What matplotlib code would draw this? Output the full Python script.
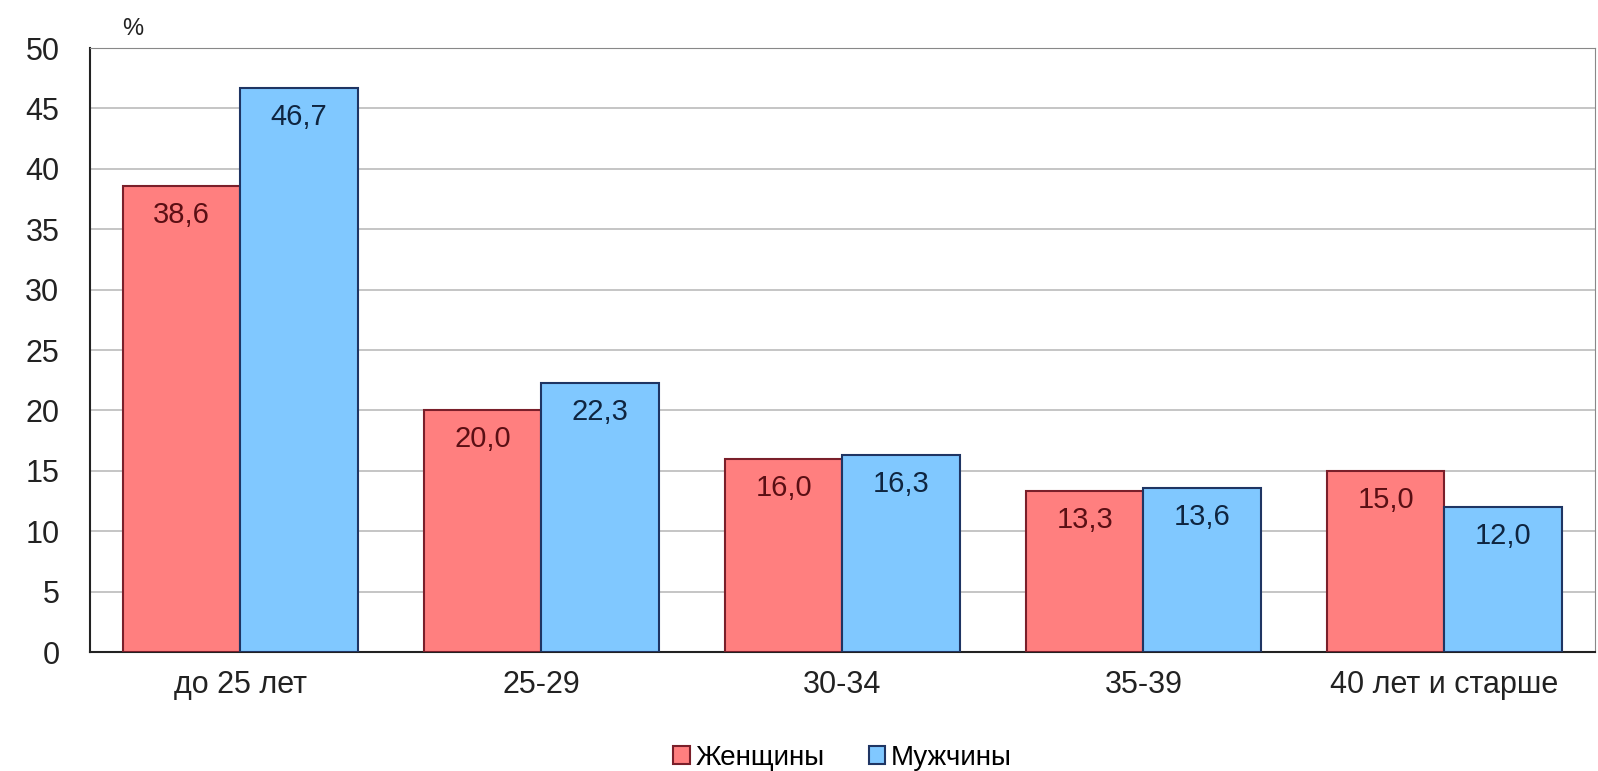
import numpy as np
import matplotlib.pyplot as plt

plt.rcParams['font.family'] = ['Liberation Sans', 'DejaVu Sans']

categories = ['до 25 лет', '25-29', '30-34', '35-39', '40 лет и старше']
women = [38.6, 20.0, 16.0, 13.3, 15.0]
men = [46.7, 22.3, 16.3, 13.6, 12.0]
series_names = ['Женщины', 'Мужчины']

fig = plt.figure(figsize=(15.98, 7.71), dpi=100)
ax = fig.add_axes([0.0563, 0.1543, 0.9417, 0.7834])

x = np.arange(len(categories))
w = 0.39
b1 = ax.bar(x - w / 2, women, w, color='#FF7F7F', edgecolor='#7A1F2A', linewidth=1.5,
            label=series_names[0], zorder=3)
b2 = ax.bar(x + w / 2, men, w, color='#80C8FF', edgecolor='#1F3563', linewidth=1.5,
            label=series_names[1], zorder=3)

def fmt(v):
    return f'{v:.1f}'.replace('.', ',')

for bars, vals, col in [(b1, women, '#5A0F14'), (b2, men, '#0F2540')]:
    for r, v in zip(bars, vals):
        ax.annotate(fmt(v), (r.get_x() + r.get_width() / 2, v), xytext=(0, -29),
                    textcoords='offset pixels',
                    ha='center', va='center', fontsize=21, color=col, zorder=4)

ax.set_xlim(-0.5, len(categories) - 0.5)
ax.set_ylim(0, 50)
ax.set_yticks(np.arange(0, 51, 5))
ax.set_xticks(x)
ax.set_xticklabels(categories)
ax.tick_params(axis='both', length=0, labelsize=22, colors='#222222')
ax.tick_params(axis='y', pad=22)
ax.tick_params(axis='x', pad=13)
ax.grid(axis='y', color='#BBBBBB', linewidth=1.2, zorder=0)

for s in ['top', 'right']:
    ax.spines[s].set_color('#888888')
ax.spines['left'].set_color('#222222')
ax.spines['bottom'].set_color('#222222')
ax.spines['left'].set_linewidth(1.5)
ax.spines['bottom'].set_linewidth(1.5)

fig.text(0.083, 0.963, '%', fontsize=17, color='#222222', ha='center', va='center')

ax.legend(loc='center', bbox_to_anchor=(0.5, -0.175), ncol=2, frameon=False,
          fontsize=20, handlelength=0.6, handleheight=0.6, handletextpad=0.2,
          columnspacing=1.6)

fig.savefig('out.png', dpi=100)
